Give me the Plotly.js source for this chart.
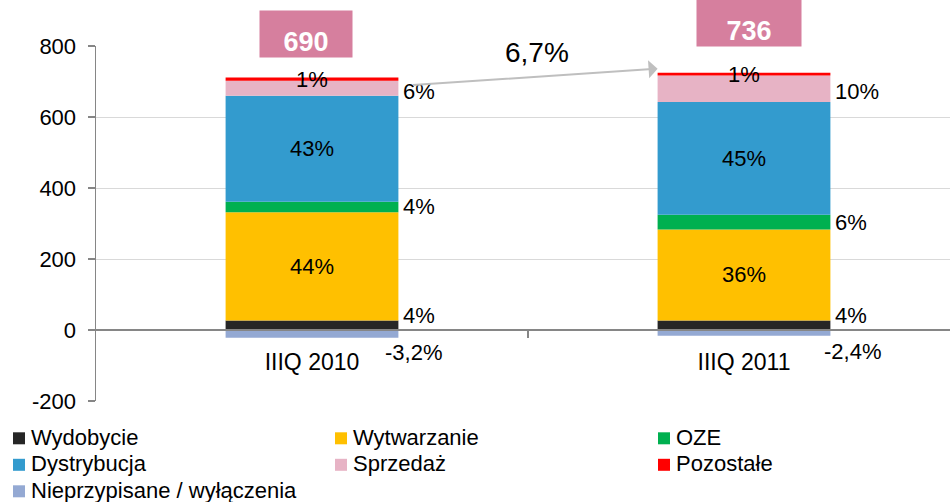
<!DOCTYPE html>
<html>
<head>
<meta charset="utf-8">
<script src="https://cdn.plot.ly/plotly-3.0.1.min.js"></script>
<style>
  html, body { margin: 0; padding: 0; background: #ffffff; overflow: hidden; }
  #chart { width: 960px; height: 502px; }
</style>
</head>
<body>
<div id="chart"></div>
<script>
// ---- data ----
const categories = ['IIIQ 2010', 'IIIQ 2011'];
const seriesNames = ['Wydobycie', 'Wytwarzanie', 'OZE', 'Dystrybucja', 'Sprzedaż', 'Pozostałe', 'Nieprzypisane / wyłączenia'];
const wydobycie     = [27, 27];
const wytwarzanie   = [305, 256];
const oze           = [29, 42];
const dystrybucja   = [299, 317];
const sprzedaz      = [42, 75];
const pozostale     = [9, 8];
const nieprzypisane = [-22, -16];

const pctWydobycie     = ['4%', '4%'];
const pctWytwarzanie   = ['44%', '36%'];
const pctOZE           = ['4%', '6%'];
const pctDystrybucja   = ['43%', '45%'];
const pctSprzedaz      = ['6%', '10%'];
const pctPozostale     = ['1%', '1%'];
const pctNieprzypisane = ['-3,2%', '-2,4%'];

const totals = [690, 736];
const totalLabels = ['690', '736'];
const growthLabel = '6,7%';

const yTickVals = [-200, 0, 200, 400, 600, 800];
const yTickText = ['-200', '0', '200', '400', '600', '800'];

// ---- styles ----
const colors = ['#262626', '#FFC000', '#00B050', '#339BCE', '#E7B3C5', '#FF0000', '#94A9D3'];
const FONT = 'Arial, "Liberation Sans", sans-serif';
const barWidth = 0.4;

// plot geometry (pixels) used to place the hand-laid legend
const M = { l: 96, r: 0, t: 45.7, b: 101.3 };
const W = 960, H = 502;
const PW = W - M.l - M.r, PH = H - M.t - M.b;
const px2x = px => (px - M.l) / PW;
const py2y = py => (H - M.b - py) / PH;

const posSeries = [wydobycie, wytwarzanie, oze, dystrybucja, sprzedaz, pozostale];
const allSeries = posSeries.concat([nieprzypisane]);

const traces = allSeries.map((vals, k) => ({
  type: 'bar',
  name: seriesNames[k],
  x: [0, 1],
  y: vals,
  width: barWidth,
  marker: { color: colors[k], line: { width: 0 } },
  hoverinfo: 'name+y'
}));

function bounds(k, i) {
  let lo = 0;
  for (let j = 0; j < k; j++) lo += posSeries[j][i];
  return [lo, lo + posSeries[k][i]];
}

const annotations = [];
const shapes = [];
const labelFont = { family: FONT, size: 22, color: '#000000' };

for (let i = 0; i < categories.length; i++) {
  [[1, pctWytwarzanie], [3, pctDystrybucja]].forEach(([k, arr]) => {
    const b = bounds(k, i);
    annotations.push({ x: i, y: (b[0] + b[1]) / 2, xref: 'x', yref: 'y', text: arr[i],
      showarrow: false, font: labelFont, xanchor: 'center', yanchor: 'middle' });
  });
  {
    const b = bounds(5, i);
    annotations.push({ x: i, y: (b[0] + b[1]) / 2, xref: 'x', yref: 'y', text: pctPozostale[i],
      showarrow: false, font: labelFont, xanchor: 'center', yanchor: 'middle' });
  }
  [[0, pctWydobycie, 10], [2, pctOZE, 0], [4, pctSprzedaz, -3]].forEach(([k, arr, ys]) => {
    const b = bounds(k, i);
    annotations.push({ x: i + barWidth / 2, y: (b[0] + b[1]) / 2, xref: 'x', yref: 'y', text: arr[i],
      showarrow: false, font: labelFont, xanchor: 'left', yanchor: 'middle', xshift: 3, yshift: ys });
  });
  annotations.push({ x: i + barWidth / 2, y: nieprzypisane[i] / 2, xref: 'x', yref: 'y', text: pctNieprzypisane[i],
    showarrow: false, font: labelFont, xanchor: 'left', yanchor: 'middle', xshift: i === 0 ? -15 : -8, yshift: -19 });
}

// total boxes
annotations.push({ x: 0, y: 1.0335, xref: 'x', yref: 'paper', text: totalLabels[0], showarrow: false,
  font: { family: FONT, size: 27, color: '#ffffff', weight: 700 }, bgcolor: '#D67F9E',
  width: 92, height: 46, xanchor: 'center', yanchor: 'middle', xshift: -6, valign: 'bottom', borderpad: 0 });
annotations.push({ x: 1, y: 1.065, xref: 'x', yref: 'paper', text: totalLabels[1], showarrow: false,
  font: { family: FONT, size: 27, color: '#ffffff', weight: 700 }, bgcolor: '#D67F9E',
  width: 104, height: 46, xanchor: 'center', yanchor: 'middle', xshift: 5, valign: 'bottom', borderpad: 0 });

// growth arrow + label
annotations.push({ x: 1 - barWidth / 2, y: totals[1], xref: 'x', yref: 'y',
  ax: barWidth / 2 + 0.03, ay: totals[0], axref: 'x', ayref: 'y', text: '',
  showarrow: true, arrowhead: 1, arrowsize: 1.5, arrowwidth: 2, arrowcolor: '#BFBFBF', standoff: 0 });
annotations.push({ x: 0.51, y: 0.983, xref: 'paper', yref: 'paper', text: growthLabel, showarrow: false,
  font: { family: FONT, size: 28, color: '#000000' }, xanchor: 'center', yanchor: 'middle' });

// legend laid out as in the reference: 3 columns, rows 26.5px apart
const legendColX = [30, 352, 675];
const legendRowY = [437, 463.5, 490];
seriesNames.forEach((name, k) => {
  const col = k % 3, row = Math.floor(k / 3);
  const tx = legendColX[col], ty = legendRowY[row];
  annotations.push({ x: px2x(tx), y: py2y(ty), xref: 'paper', yref: 'paper', text: name, showarrow: false,
    font: { family: FONT, size: 22, color: '#000000' }, xanchor: 'left', yanchor: 'middle', borderpad: 0 });
  shapes.push({ type: 'rect', xref: 'paper', yref: 'paper',
    x0: px2x(tx - 17), x1: px2x(tx - 5), y0: py2y(ty - 5), y1: py2y(ty + 7),
    fillcolor: colors[k], line: { width: 0 } });
});

// tick mark on the category boundary below the zero line
shapes.push({ type: 'line', xref: 'x', yref: 'y', x0: 0.5, x1: 0.5, y0: 0, y1: -22.5,
  line: { color: '#868686', width: 2 } });

const layout = {
  width: W,
  height: H,
  margin: { l: M.l, r: M.r, t: M.t, b: M.b, autoexpand: false },
  paper_bgcolor: '#ffffff',
  plot_bgcolor: '#ffffff',
  font: { family: FONT, size: 22, color: '#000000' },
  barmode: 'relative',
  showlegend: false,
  xaxis: {
    type: 'linear',
    range: [-0.5, 1.5],
    tickmode: 'array',
    tickvals: [0, 1],
    ticktext: categories,
    anchor: 'free',
    position: 0.2,
    showline: true, linecolor: '#868686', linewidth: 2,
    showgrid: false, zeroline: false,
    ticks: '',
    tickfont: { family: FONT, size: 23, color: '#000000' },
    ticklabelstandoff: 11
  },
  yaxis: {
    range: [-200, 800],
    tickmode: 'array',
    tickvals: yTickVals,
    ticktext: yTickText,
    showline: true, linecolor: '#868686', linewidth: 1.5,
    ticks: 'outside', ticklen: 7, tickwidth: 1.5, tickcolor: '#868686',
    showgrid: true, gridcolor: '#D9D9D9', gridwidth: 1,
    zeroline: false,
    tickfont: { family: FONT, size: 22, color: '#000000' },
    ticklabelstandoff: 7
  },
  shapes: shapes,
  annotations: annotations
};

Plotly.newPlot('chart', traces, layout, { displayModeBar: false, staticPlot: true });
</script>
</body>
</html>
